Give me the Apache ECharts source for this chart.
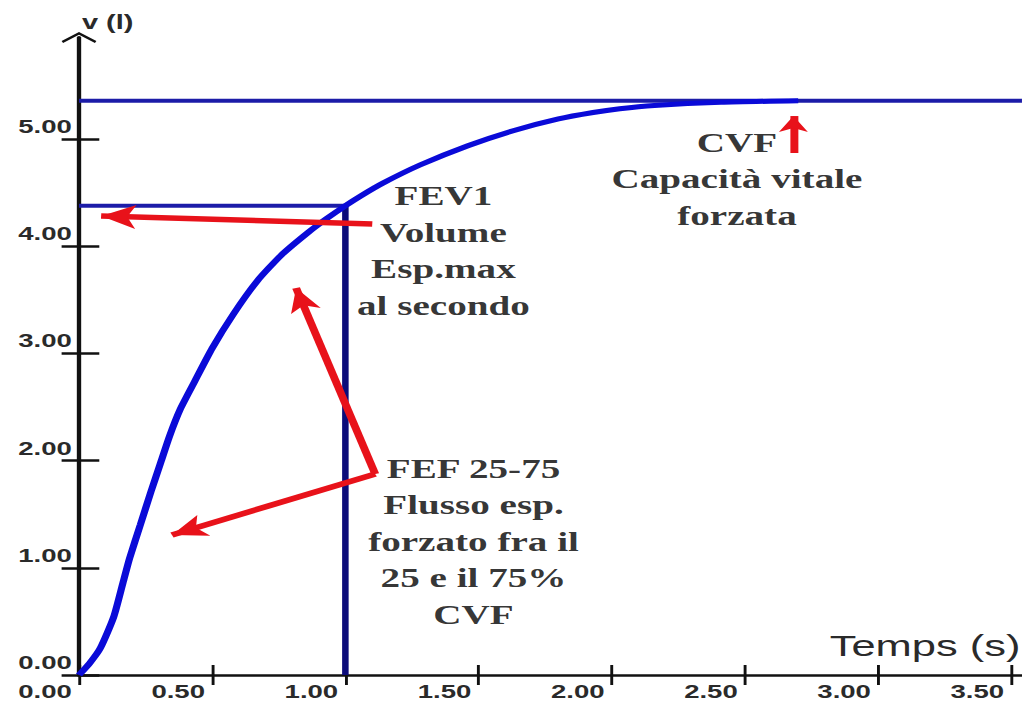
<!DOCTYPE html>
<html>
<head>
<meta charset="utf-8">
<script src="https://cdn.jsdelivr.net/npm/echarts@6/dist/echarts.min.js"></script>
<style>
  html, body { margin: 0; padding: 0; background: #fff; overflow: hidden; width: 1022px; height: 702px; }
  /* the chart is laid out narrow and widened horizontally */
  #chart { width: 705px; height: 702px; transform: scaleX(1.4496); transform-origin: 0 0; }
</style>
</head>
<body>
<div id="chart"></div>
<script>
// Spirometry curve: expired volume (l) against time (s)
const timeS = [0, 0.04, 0.08, 0.13, 0.165, 0.19, 0.23, 0.27, 0.305, 0.34, 0.38, 0.43, 0.50, 0.58,
               0.67, 0.76, 0.86, 0.93, 1.00, 1.06, 1.14, 1.28, 1.46, 1.63, 1.80, 1.93, 2.03, 2.16,
               2.41, 2.70];
const volumeL = [0, 0.11, 0.25, 0.54, 0.86, 1.09, 1.40, 1.71, 1.97, 2.23, 2.48, 2.72, 3.05, 3.37,
                 3.68, 3.92, 4.13, 4.26, 4.38, 4.475, 4.59, 4.76, 4.94, 5.08, 5.19, 5.25, 5.285, 5.315,
                 5.345, 5.36];

const FEV1_TIME = 1.0;   // s
const FEV1 = 4.38;       // l
const CVF = 5.36;        // l

const xTicks = [0, 0.5, 1.0, 1.5, 2.0, 2.5, 3.0, 3.5];
const yTicks = [0, 1, 2, 3, 4, 5];
const X_MAX = 3.54;
const Y_MAX = 5.95;

const fev1Text = ['FEV1', 'Volume', 'Esp.max', 'al secondo'];
const cvfText = ['CVF', 'Capacità vitale', 'forzata'];
const fefText = ['FEF 25-75', 'Flusso esp.', 'forzato fra il', '25 e il 75%', 'CVF'];

// ---- layout / styling ----
const AXIS_COLOR = '#111';
const LABEL_COLOR = '#2a2a2a';
const SANS = "'Liberation Sans', Arial, sans-serif";
const SERIF = "'Liberation Serif', 'Times New Roman', serif";
const RED = '#e8121a';

const gridBox = { left: 54.5, right: 0, top: 37.5, bottom: 27, outerBoundsMode: 'none', containLabel: false };
const fmt2 = v => Number(v).toFixed(2);

// annotation arrows, in data coordinates (from -> to)
const arrows = [
  { from: [1.101, 4.21], to: [0.083, 4.284], size: [18, 24] },
  { from: [1.112, 1.876], to: [0.815, 3.612], size: [16, 24] },
  { from: [1.112, 1.876], to: [0.349, 1.307], size: [17, 24] },
  { from: [2.682, 4.872], to: [2.682, 5.217], size: [15, 16] }
];

const textBlocks = [
  { at: [1.368, 3.96], lines: fev1Text },
  { at: [2.47, 4.63], lines: cvfText },
  { at: [1.481, 1.245], lines: fefText }
];

const chevron = 'path://M12,0 L24,9 L23,11 L12,2.8 L1,11 L0,9 Z';

const chart = echarts.init(document.getElementById('chart'), null, { renderer: 'svg' });

chart.setOption({
  animation: false,
  backgroundColor: '#fff',
  grid: [Object.assign({}, gridBox), Object.assign({}, gridBox)],
  xAxis: [
    {
      gridIndex: 0, type: 'value', min: 0, max: X_MAX, position: 'bottom',
      axisLine: { onZero: false, lineStyle: { color: AXIS_COLOR, width: 2.5 } },
      axisTick: { show: true, customValues: xTicks, length: 10, lineStyle: { color: AXIS_COLOR, width: 2 } },
      axisLabel: {
        customValues: xTicks, formatter: fmt2, align: 'right', padding: [0, 5, 0, 0], margin: 7,
        fontSize: 19, fontWeight: 'bold', color: LABEL_COLOR, fontFamily: SANS
      },
      splitLine: { show: false },
      name: 'Temps (s)', nameLocation: 'end', nameGap: 0,
      nameTextStyle: {
        align: 'right', verticalAlign: 'bottom', padding: [0, 1, 14, 0],
        fontSize: 30, color: LABEL_COLOR, fontFamily: SANS
      }
    },
    {
      gridIndex: 1, type: 'value', min: 0, max: X_MAX, position: 'bottom',
      axisLine: { show: false, onZero: false },
      axisTick: { show: true, inside: true, customValues: xTicks, length: 10, lineStyle: { color: AXIS_COLOR, width: 2 } },
      axisLabel: { show: false },
      splitLine: { show: false }
    }
  ],
  yAxis: [
    {
      gridIndex: 0, type: 'value', min: 0, max: Y_MAX, position: 'left',
      axisLine: {
        onZero: false, lineStyle: { color: AXIS_COLOR, width: 3 },
        symbol: ['none', chevron], symbolSize: [24, 11]
      },
      axisTick: { show: true, customValues: yTicks, length: 12, lineStyle: { color: AXIS_COLOR, width: 2.5 } },
      axisLabel: {
        customValues: yTicks, formatter: fmt2, margin: 5, verticalAlign: 'bottom', padding: [0, 0, 3, 0],
        fontSize: 19, fontWeight: 'bold', color: LABEL_COLOR, fontFamily: SANS
      },
      splitLine: { show: false },
      name: 'v (l)', nameLocation: 'end', nameGap: 6,
      nameTextStyle: {
        align: 'left', verticalAlign: 'bottom', padding: [0, 0, 0, 2],
        fontSize: 20, fontWeight: 'bold', color: LABEL_COLOR, fontFamily: SANS
      }
    },
    {
      gridIndex: 1, type: 'value', min: 0, max: Y_MAX, position: 'left',
      axisLine: { show: false, onZero: false },
      axisTick: { show: true, inside: true, customValues: yTicks, length: 14, lineStyle: { color: AXIS_COLOR, width: 2.5 } },
      axisLabel: { show: false },
      splitLine: { show: false }
    }
  ],
  series: [
    {
      name: 'CVF', type: 'line', xAxisIndex: 0, yAxisIndex: 0,
      data: [[0, CVF], [X_MAX, CVF]], showSymbol: false, silent: true,
      lineStyle: { color: '#1c1ca8', width: 4 }, z: 2
    },
    {
      name: 'FEV1 level', type: 'line', xAxisIndex: 0, yAxisIndex: 0,
      data: [[0, FEV1], [FEV1_TIME, FEV1]], showSymbol: false, silent: true,
      lineStyle: { color: '#1c1ca8', width: 4 }, z: 2
    },
    {
      name: 'FEV1 time', type: 'line', xAxisIndex: 0, yAxisIndex: 0,
      data: [[FEV1_TIME, 0], [FEV1_TIME, FEV1]], showSymbol: false, silent: true,
      lineStyle: { color: '#0c0c7a', width: 4.5 }, z: 2
    },
    {
      name: 'Volume', type: 'line', xAxisIndex: 0, yAxisIndex: 0,
      data: timeS.map((t, i) => [t, volumeL[i]]),
      showSymbol: false, smooth: 0.2, silent: true,
      lineStyle: { color: '#0a0ad8', width: 5 }, z: 3
    },
    {
      name: 'arrows', type: 'line', xAxisIndex: 0, yAxisIndex: 0,
      data: [[0, 0]], showSymbol: false, lineStyle: { opacity: 0 }, silent: true, z: 5,
      markLine: {
        silent: true, animation: false,
        symbol: ['none', 'arrow'],
        label: { show: false },
        lineStyle: { color: RED, width: 5.5, type: 'solid' },
        emphasis: { disabled: true },
        data: arrows.map(a => [
          { coord: a.from, symbol: 'none' },
          { coord: a.to, symbol: 'arrow', symbolSize: a.size }
        ])
      }
    },
    {
      name: 'notes', type: 'scatter', xAxisIndex: 0, yAxisIndex: 0,
      symbolSize: 1, itemStyle: { color: 'rgba(0,0,0,0)' }, silent: true, z: 6,
      data: textBlocks.map(b => ({
        value: b.at,
        label: {
          show: true, position: 'inside', formatter: b.lines.join('\n'),
          align: 'center', verticalAlign: 'middle',
          fontFamily: SERIF, fontWeight: 'bold', fontSize: 27, lineHeight: 36.5, color: '#000'
        }
      }))
    }
  ]
});
</script>
</body>
</html>
